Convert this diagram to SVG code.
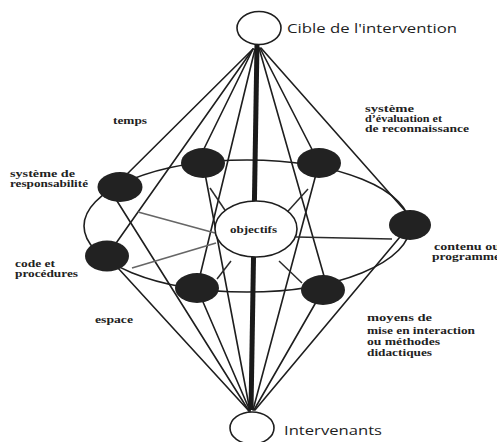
<svg xmlns="http://www.w3.org/2000/svg" width="497" height="442" viewBox="0 0 497 442">
  <style>
    .bg { fill: #ffffff; }
    .ring { fill: none; stroke: #1e1e1e; stroke-width: 1.6; }
    .link { stroke: #1e1e1e; stroke-width: 1.6; fill: none; stroke-linecap: round; }
    .spoke { stroke: #2a2a2a; stroke-width: 1.5; fill: none; }
    .spoke.grey { stroke: #666666; stroke-width: 1.7; }
    .axis { stroke: #1a1a1a; stroke-width: 5; fill: none; }
    .hub { fill: #ffffff; stroke: #1e1e1e; stroke-width: 1.6; }
    .pole { fill: #ffffff; stroke: #1e1e1e; stroke-width: 1.6; }
    .node { fill: #222222; }
    .lbl { font-family: "Liberation Serif", "Times New Roman", serif; font-weight: bold; font-size: 9.5px; fill: #222222; }
    .title { font-family: "Open Sans", "DejaVu Sans", sans-serif; font-size: 13.5px; fill: #1e1e1e; }
  </style>

  <rect class="bg" x="0" y="0" width="497" height="442"/>

  <!-- outer ring linking the seven components -->
  <ellipse id="ring" class="ring" cx="247" cy="226" rx="163" ry="66"/>

  <g id="connectors">
    <!-- from the target (top pole) to each component -->
    <line class="link" x1="253" y1="49" x2="115" y2="186"/>
    <line class="link" x1="253" y1="49" x2="107" y2="256"/>
    <line class="link" x1="253" y1="49" x2="197" y2="163"/>
    <line class="link" x1="255" y1="49" x2="197" y2="288"/>
    <line class="link" x1="259" y1="48" x2="328" y2="290"/>
    <line class="link" x1="260" y1="48" x2="319" y2="163"/>
    <line class="link" x1="261" y1="48" x2="415" y2="222"/>
    <!-- from each component to the practitioners (bottom pole) -->
    <line class="link" x1="107" y1="256" x2="249" y2="411"/>
    <line class="link" x1="112" y1="193" x2="249" y2="411"/>
    <line class="link" x1="197" y1="288" x2="250" y2="411"/>
    <line class="link" x1="203" y1="163" x2="250" y2="411"/>
    <line class="link" x1="319" y1="163" x2="253" y2="410"/>
    <line class="link" x1="323" y1="290" x2="254" y2="410"/>
    <line class="link" x1="410" y1="225" x2="255" y2="410"/>
    <!-- short spokes around the objectives -->
    <line class="spoke" x1="210" y1="188" x2="231" y2="219"/>
    <line class="spoke" x1="308" y1="189" x2="280" y2="220"/>
    <line class="spoke" x1="231" y1="261" x2="217" y2="279"/>
    <line class="spoke" x1="279" y1="261" x2="302" y2="283"/>
    <line class="spoke grey" x1="138" y1="212" x2="215" y2="233"/>
    <line class="spoke grey" x1="132" y1="268" x2="216" y2="243"/>
    <line class="spoke" x1="296" y1="237" x2="392" y2="239"/>
    <!-- main axis target - practitioners -->
    <line class="axis" x1="257" y1="44" x2="251" y2="410"/>
  </g>

  <g id="objectifs">
    <ellipse class="hub" cx="256" cy="229" rx="41" ry="28"/>
    <text class="lbl" x="230" y="233" textLength="47" lengthAdjust="spacingAndGlyphs">objectifs</text>
  </g>

  <g id="responsabilite">
    <ellipse class="node" cx="120" cy="187" rx="22.5" ry="15"/>
    <text class="lbl" x="10" y="177" textLength="65" lengthAdjust="spacingAndGlyphs">système de</text>
    <text class="lbl" x="10" y="187" textLength="78" lengthAdjust="spacingAndGlyphs">responsabilité</text>
  </g>

  <g id="temps">
    <ellipse class="node" cx="203" cy="163" rx="22" ry="15"/>
    <text class="lbl" x="113" y="124" textLength="34" lengthAdjust="spacingAndGlyphs">temps</text>
  </g>

  <g id="evaluation">
    <ellipse class="node" cx="319" cy="163" rx="22" ry="15"/>
    <text class="lbl" x="365" y="112" textLength="49" lengthAdjust="spacingAndGlyphs">système</text>
    <text class="lbl" x="365" y="122" textLength="77" lengthAdjust="spacingAndGlyphs">d’évaluation et</text>
    <text class="lbl" x="365" y="132" textLength="104" lengthAdjust="spacingAndGlyphs">de reconnaissance</text>
  </g>

  <g id="contenu">
    <ellipse class="node" cx="410" cy="225" rx="21" ry="15"/>
    <text class="lbl" x="434" y="250" textLength="66" lengthAdjust="spacingAndGlyphs">contenu ou</text>
    <text class="lbl" x="432" y="260" textLength="68" lengthAdjust="spacingAndGlyphs">programme</text>
  </g>

  <g id="moyens">
    <ellipse class="node" cx="323" cy="290" rx="22" ry="15"/>
    <text class="lbl" x="367" y="321" textLength="65" lengthAdjust="spacingAndGlyphs">moyens de</text>
    <text class="lbl" x="367" y="334" textLength="108" lengthAdjust="spacingAndGlyphs">mise en interaction</text>
    <text class="lbl" x="367" y="345" textLength="73" lengthAdjust="spacingAndGlyphs">ou méthodes</text>
    <text class="lbl" x="367" y="356" textLength="65" lengthAdjust="spacingAndGlyphs">didactiques</text>
  </g>

  <g id="espace">
    <ellipse class="node" cx="197" cy="288" rx="22" ry="15"/>
    <text class="lbl" x="95" y="323" textLength="38" lengthAdjust="spacingAndGlyphs">espace</text>
  </g>

  <g id="code">
    <ellipse class="node" cx="107" cy="256" rx="22" ry="15.5"/>
    <text class="lbl" x="15" y="267" textLength="40" lengthAdjust="spacingAndGlyphs">code et</text>
    <text class="lbl" x="15" y="277" textLength="63" lengthAdjust="spacingAndGlyphs">procédures</text>
  </g>

  <g id="cible">
    <ellipse class="pole" cx="259" cy="28" rx="22" ry="16.5"/>
    <text class="title" x="287" y="33" textLength="170" lengthAdjust="spacingAndGlyphs">Cible de l'intervention</text>
  </g>

  <g id="intervenants">
    <ellipse class="pole" cx="252" cy="428" rx="22" ry="16"/>
    <text class="title" x="284" y="435" textLength="98" lengthAdjust="spacingAndGlyphs">Intervenants</text>
  </g>
</svg>
